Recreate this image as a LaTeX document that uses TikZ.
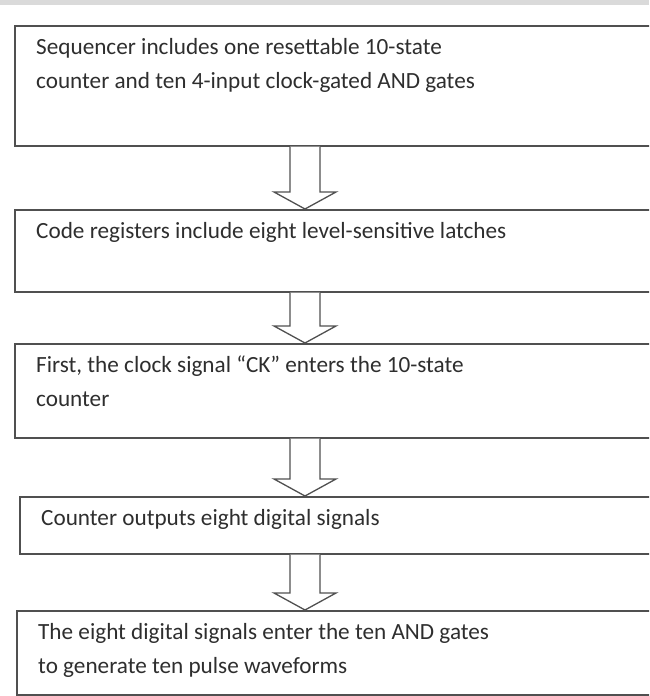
\documentclass[tikz,border=0pt]{standalone}
\usepackage{fontspec}
\setmainfont{Carlito}
\usetikzlibrary{calc}

\definecolor{boxgray}{HTML}{505050}
\definecolor{textgray}{HTML}{2E2E2E}
\definecolor{bandgray}{HTML}{DADADA}

\tikzset{
  stepbox/.style={draw=boxgray, line width=1.5pt, anchor=north west,
    minimum width=720pt, minimum height=#1, inner sep=0pt},
  steptext/.style={anchor=north west, align=left, inner sep=0pt,
    text=textgray, font=\fontsize{23.2}{34}\selectfont},
  blockarrow/.style={draw=boxgray, line width=1.3pt, fill=white, line join=miter},
}

% hollow down arrow from the bottom of one box to the top of the next
\newcommand\hollowarrow[2]{%
  \filldraw[blockarrow] let \p1=(#1), \p2=(#2) in
    (\x1-15,\y1) -- (\x1-15,\y2+17) -- (\x1-31,\y2+17) -- (\x2,\y2)
    -- (\x1+31,\y2+17) -- (\x1+15,\y2+17) -- (\x1+15,\y1);}

\begin{document}
\begin{tikzpicture}[x=1pt,y=-1pt]
  \clip (0,0) rectangle (649,696);
  \fill[bandgray] (0,0) rectangle (649,5);
  \coordinate (ax) at (305,0);

  % the five steps
  \node[stepbox=120pt] (seq) at (14,25) {};
  \node[steptext] (seqtext) at ($(seq.north west)+(22,13)$)
    {Sequencer includes one resettable 10-state\\counter and ten 4-input clock-gated AND gates};

  \node[stepbox=82pt] (reg) at (14,209) {};
  \node[steptext] (regtext) at ($(reg.north west)+(22,13)$)
    {Code registers include eight level-sensitive latches};

  \node[stepbox=94pt] (clk) at (14,343) {};
  \node[steptext] (clktext) at ($(clk.north west)+(22,13)$)
    {First, the clock signal “CK” enters the 10-state\\counter};

  \node[stepbox=57pt] (cnt) at (19,496) {};
  \node[steptext] (cnttext) at ($(cnt.north west)+(22,13)$)
    {Counter outputs eight digital signals};

  \node[stepbox=84pt] (gate) at (16,610) {};
  \node[steptext] (gatetext) at ($(gate.north west)+(22,13)$)
    {The eight digital signals enter the ten AND gates\\to generate ten pulse waveforms};

  % arrows between the steps
  \hollowarrow{seq.south -| ax}{reg.north -| ax}
  \hollowarrow{reg.south -| ax}{clk.north -| ax}
  \hollowarrow{clk.south -| ax}{cnt.north -| ax}
  \hollowarrow{cnt.south -| ax}{gate.north -| ax}
\end{tikzpicture}
\end{document}
